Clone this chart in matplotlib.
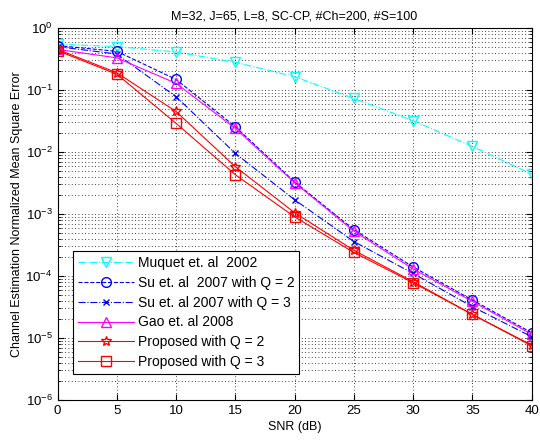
import numpy as np
import matplotlib
matplotlib.use("Agg")
import matplotlib.pyplot as plt
from matplotlib.ticker import LogLocator, NullFormatter

plt.rcParams["font.family"] = ["Liberation Sans", "DejaVu Sans"]
plt.rcParams["mathtext.fontset"] = "custom"
plt.rcParams["mathtext.rm"] = "Liberation Sans"

# SNR axis
snr = [0, 5, 10, 15, 20, 25, 30, 35, 40]

# NMSE curves
muquet = [0.55, 0.50, 0.41, 0.28, 0.164, 0.073, 0.032, 0.0123, 0.0044]
su_q2 = [0.52, 0.42, 0.148, 0.0256, 0.0033, 5.6e-4, 1.4e-4, 4.1e-5, 1.22e-5]
su_q3 = [0.50, 0.38, 0.078, 0.0095, 0.0017, 3.6e-4, 1.1e-4, 3.2e-5, 1.05e-5]
gao = [0.45, 0.33, 0.128, 0.024, 0.0032, 5.3e-4, 1.3e-4, 3.9e-5, 1.15e-5]
prop_q2 = [0.45, 0.19, 0.045, 0.0058, 0.00105, 2.6e-4, 8.1e-5, 2.4e-5, 7.7e-6]
prop_q3 = [0.43, 0.18, 0.029, 0.0043, 0.0009, 2.4e-4, 7.8e-5, 2.4e-5, 7.5e-6]

labels = ["Muquet et. al  2002", "Su et. al  2007 with Q = 2", "Su et. al 2007 with Q = 3",
          "Gao et. al 2008", "Proposed with Q = 2", "Proposed with Q = 3"]

fig = plt.figure(figsize=(5.4, 4.44), dpi=100)
ax = fig.add_axes([0.1065, 0.099, 0.878, 0.838])

lw = 0.8
ms = 7
ax.plot(snr, muquet, color="cyan", ls="-.", marker="v", mfc="none", ms=ms, lw=lw, label=labels[0])
ax.plot(snr, su_q2, color="blue", ls="--", marker="o", mfc="none", ms=ms, lw=lw, label=labels[1])
ax.plot(snr, su_q3, color="blue", ls="-.", marker="x", mfc="none", ms=5, lw=lw, label=labels[2])
ax.plot(snr, gao, color="magenta", ls="-", marker="^", mfc="none", ms=ms, lw=lw, label=labels[3])
ax.plot(snr, prop_q2, color="red", ls="-", marker="*", mfc="none", ms=ms, lw=lw, label=labels[4])
ax.plot(snr, prop_q3, color="red", ls="-", marker="s", mfc="none", ms=ms, lw=lw, label=labels[5])

ax.set_yscale("log")
ax.set_xlim(0, 40)
ax.set_ylim(1e-6, 1)
ax.set_xticks(range(0, 41, 5))
ax.yaxis.set_major_locator(LogLocator(base=10, numticks=10))
ax.yaxis.set_minor_locator(LogLocator(base=10, subs=np.arange(2, 10), numticks=100))
ax.yaxis.set_minor_formatter(NullFormatter())

dots = (0, (1, 3))
ax.grid(True, which="major", ls=dots, color="black", lw=0.6)
ax.grid(True, which="minor", axis="y", ls=dots, color="black", lw=0.6)
ax.set_axisbelow(True)
ax.tick_params(which="both", direction="in", top=True, right=True, labelsize=9.5)
ax.tick_params(which="major", length=4)
ax.tick_params(which="minor", length=2)
for s in ax.spines.values():
    s.set_linewidth(0.8)

ax.set_title("M=32, J=65, L=8, SC-CP, #Ch=200, #S=100", fontsize=9, pad=6)
ax.set_xlabel("SNR (dB)", fontsize=9, labelpad=3)
ax.set_ylabel("Channel Estimation Normalized Mean Square Error", fontsize=9, labelpad=2)

leg = ax.legend(loc="lower left", bbox_to_anchor=(0.033, 0.07), fontsize=10, fancybox=False,
                framealpha=1, edgecolor="black", borderpad=0.35, labelspacing=0.42,
                handlelength=4.0, handletextpad=0.3, borderaxespad=0)
leg.get_frame().set_linewidth(0.8)

fig.savefig("out.png", dpi=100)
